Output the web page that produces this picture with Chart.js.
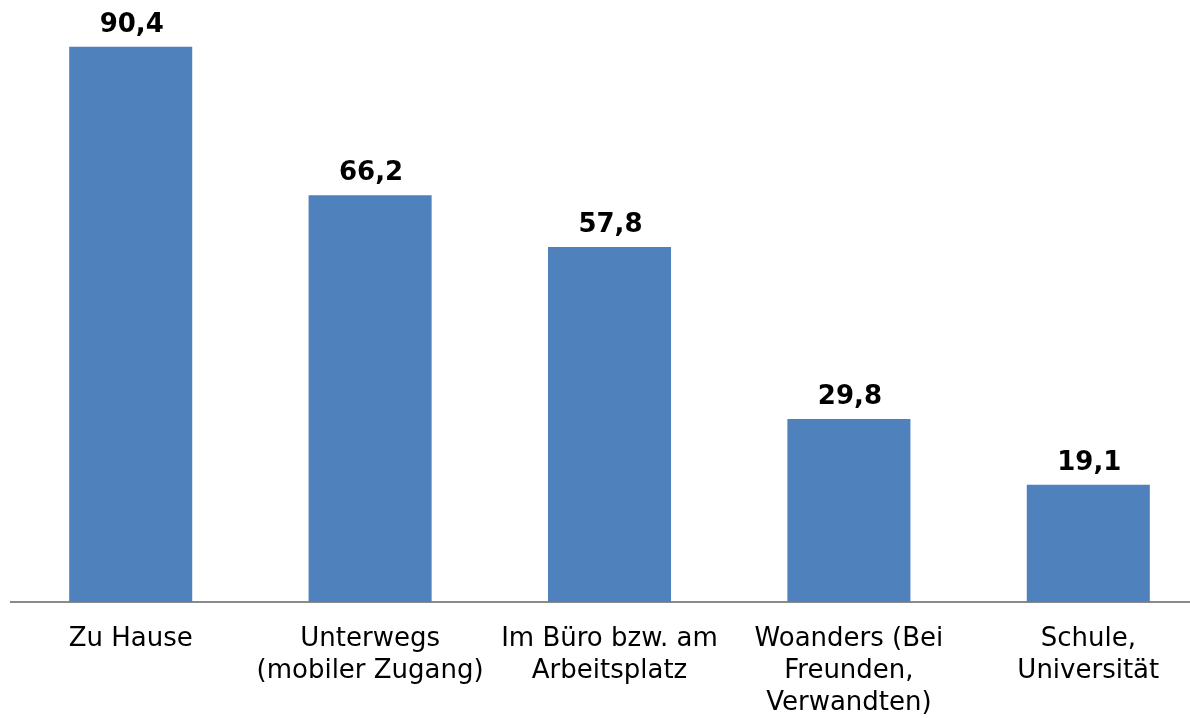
<!DOCTYPE html>
<html>
<head>
<meta charset="utf-8">
<script src="https://cdn.jsdelivr.net/npm/chart.js@4"></script>
<style>
html,body{margin:0;padding:0;background:#fff;overflow:hidden;width:1190px;height:718px;}
canvas{display:block;}
</style>
</head>
<body>
<canvas id="c" width="1208" height="718"></canvas>
<script>
const categories = [
  ["Zu Hause"],
  ["Unterwegs", "(mobiler Zugang)"],
  ["Im Büro bzw. am", "Arbeitsplatz"],
  ["Woanders (Bei", "Freunden,", "Verwandten)"],
  ["Schule,", "Universität"]
];
const values = [90.4, 66.2, 57.8, 29.8, 19.1];
const valueLabels = ["90,4", "66,2", "57,8", "29,8", "19,1"];

const labelPlugin = {
  id: 'valueLabels',
  afterDatasetsDraw(chart) {
    const ctx = chart.ctx;
    const meta = chart.getDatasetMeta(0);
    ctx.save();
    ctx.font = 'bold 26px "DejaVu Sans"';
    ctx.fillStyle = '#000';
    ctx.textAlign = 'center';
    ctx.textBaseline = 'alphabetic';
    meta.data.forEach((bar, i) => {
      ctx.fillText(valueLabels[i], bar.x + 1, bar.y - 15);
    });
    ctx.restore();
  }
};

new Chart(document.getElementById('c'), {
  type: 'bar',
  data: {
    labels: categories,
    datasets: [{
      data: values,
      backgroundColor: '#4F81BD',
      borderWidth: 0,
      categoryPercentage: 1,
      barPercentage: 0.514
    }]
  },
  options: {
    responsive: false,
    animation: false,
    devicePixelRatio: 1,
    layout: { padding: { left: 11, right: 0, top: 0, bottom: 0 } },
    plugins: { legend: { display: false }, tooltip: { enabled: false } },
    scales: {
      x: {
        grid: { display: false, drawTicks: false },
        border: { display: true, color: '#8a8a8a', width: 2 },
        ticks: {
          color: '#000',
          font: { family: '"DejaVu Sans"', size: 26, lineHeight: 1.24 },
          padding: 21,
          maxRotation: 0,
          autoSkip: false
        },
        afterFit(scale) { scale.height = 116; }
      },
      y: {
        display: false,
        min: 0,
        max: 98
      }
    }
  },
  plugins: [labelPlugin]
});
</script>
</body>
</html>
